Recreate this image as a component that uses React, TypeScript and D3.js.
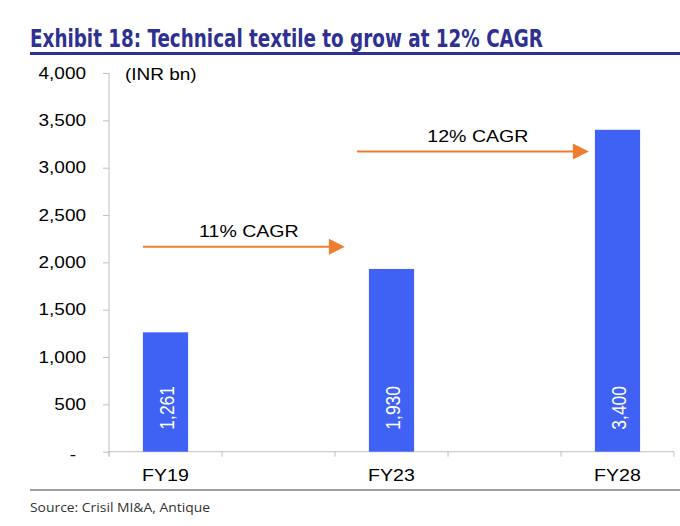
import * as d3 from "d3";
import React from "react";

// category slots: empty slots keep the gaps between the three years
const slots = ["FY19", "", "FY23", "", "FY28"];
const values: (number | null)[] = [1261, null, 1930, null, 3400];
const yTicks = [0, 500, 1000, 1500, 2000, 2500, 3000, 3500, 4000];

// CAGR annotations
const cagrLabels = ["11% CAGR", "12% CAGR"];
const cagrFrom = [0, 2];
const cagrTo = [2, 4];
const cagrLevel = [2165, 3170];

const title = "Exhibit 18: Technical textile to grow at 12% CAGR";
const unitLabel = "(INR bn)";
const source = "Source: Crisil MI&A, Antique";

const W = 680;
const H = 526;
const STRETCH = 1.15; // the source picture is a little wider than tall

function stretch(sel: d3.Selection<SVGTextElement, any, any, any>) {
  sel.each(function () {
    const len = this.getComputedTextLength();
    if (len > 0) {
      d3.select(this)
        .attr("textLength", len * STRETCH)
        .attr("lengthAdjust", "spacingAndGlyphs");
    }
  });
}

export default function App() {
  const ref = React.useRef<SVGSVGElement>(null);

  React.useEffect(() => {
    if (!ref.current) return;
    const svg = d3.select(ref.current);
    svg.selectAll("*").remove();

    const font = "'Liberation Sans', Arial, Helvetica, sans-serif";
    const fs = 16.5;
    const plot = { left: 109, right: 674, top: 73, bottom: 451.7 };

    // タイトル
    svg
      .append("text")
      .attr("x", 30)
      .attr("y", 46.5)
      .attr("textLength", 513)
      .attr("lengthAdjust", "spacingAndGlyphs")
      .attr("fill", "#2e3192")
      .attr("font-family", "'Liberation Sans Narrow', 'DejaVu Sans Condensed', 'Open Sans', sans-serif")
      .attr("font-weight", "bold")
      .attr("font-size", 24)
      .text(title);

    svg
      .append("line")
      .attr("x1", 30)
      .attr("x2", W)
      .attr("y1", 53.5)
      .attr("y2", 53.5)
      .attr("stroke", "#2e3192")
      .attr("stroke-width", 3);

    const x = d3
      .scaleBand<number>()
      .domain(d3.range(slots.length))
      .range([plot.left, plot.right])
      .paddingInner(0.6)
      .paddingOuter(0.3);

    const step = x.step();

    const y = d3.scaleLinear().domain([0, 4000]).range([plot.bottom, plot.top]);

    // Y軸
    const yAxis = svg
      .append("g")
      .attr("transform", `translate(${plot.left},0)`)
      .call(
        d3
          .axisLeft(y)
          .tickValues(yTicks)
          .tickSize(6)
          .tickPadding(17)
          .tickFormat((d) => (+d === 0 ? "-" : d3.format(",")(+d)))
      );
    yAxis.select(".domain").remove();
    yAxis.selectAll(".tick line").attr("stroke", "#c0c0c0");
    const yLabels = yAxis
      .selectAll<SVGTextElement, number>(".tick text")
      .attr("font-family", font)
      .attr("font-size", fs)
      .attr("fill", "#000")
      .attr("dx", (d) => (d === 0 ? -10 : 0))
      .attr("dy", (d) => (d === 0 ? "0.45em" : "0.32em"));
    stretch(yLabels);
    svg
      .append("line")
      .attr("x1", plot.left)
      .attr("x2", plot.left)
      .attr("y1", plot.top)
      .attr("y2", plot.bottom + 5)
      .attr("stroke", "#c0c0c0");

    // X軸
    const xg = svg.append("g");
    xg.append("line")
      .attr("x1", plot.left)
      .attr("x2", plot.right)
      .attr("y1", plot.bottom)
      .attr("y2", plot.bottom)
      .attr("stroke", "#c0c0c0");
    xg.selectAll("line.tick")
      .data(d3.range(slots.length + 1))
      .enter()
      .append("line")
      .attr("class", "tick")
      .attr("x1", (i) => plot.left + i * step)
      .attr("x2", (i) => plot.left + i * step)
      .attr("y1", plot.bottom)
      .attr("y2", plot.bottom + 5)
      .attr("stroke", "#c0c0c0");
    const xLabels = xg
      .selectAll<SVGTextElement, string>("text")
      .data(slots)
      .enter()
      .append("text")
      .attr("x", (_, i) => (x(i) || 0) + x.bandwidth() / 2)
      .attr("y", plot.bottom + 29.5)
      .attr("text-anchor", "middle")
      .attr("font-family", font)
      .attr("font-size", fs + 0.5)
      .attr("fill", "#000")
      .text((d) => d);
    stretch(xLabels);

    // バー
    const bars = slots
      .map((s, i) => ({ s, i, v: values[i] }))
      .filter((d) => d.v !== null) as { s: string; i: number; v: number }[];

    svg
      .selectAll("rect.bar")
      .data(bars)
      .enter()
      .append("rect")
      .attr("class", "bar")
      .attr("x", (d) => x(d.i) || 0)
      .attr("y", (d) => y(d.v))
      .attr("width", x.bandwidth())
      .attr("height", (d) => y(0) - y(d.v))
      .attr("fill", "#3f62f4");

    svg
      .selectAll("text.val")
      .data(bars)
      .enter()
      .append("text")
      .attr("class", "val")
      .attr(
        "transform",
        (d) =>
          `translate(${(x(d.i) || 0) + x.bandwidth() / 2 + 1},${y(0) - 22}) rotate(-90) scale(1,${STRETCH})`
      )
      .attr("dy", "0.36em")
      .attr("font-family", font)
      .attr("font-size", 17.5)
      .attr("fill", "#fff")
      .text((d) => d3.format(",")(d.v));

    // 単位
    const unit = svg
      .append("text")
      .attr("x", 125)
      .attr("y", y(4000) + 6.5)
      .attr("font-family", font)
      .attr("font-size", fs)
      .attr("fill", "#000")
      .text(unitLabel);
    stretch(unit as any);

    // CAGR矢印
    const orange = "#ed7d31";
    cagrLabels.forEach((label, k) => {
      const x1 = k === 0 ? x(cagrFrom[k]) || 0 : (x(cagrFrom[k]) || 0) - 12;
      const x2 = (x(cagrTo[k]) || 0) - (k === 0 ? 24 : 6);
      const yy = y(cagrLevel[k]);
      svg
        .append("line")
        .attr("x1", x1)
        .attr("x2", x2 - 14)
        .attr("y1", yy)
        .attr("y2", yy)
        .attr("stroke", orange)
        .attr("stroke-width", 2);
      svg
        .append("path")
        .attr("d", `M${x2},${yy}L${x2 - 16},${yy - 8}L${x2 - 16},${yy + 8}Z`)
        .attr("fill", orange);
      const t = svg
        .append("text")
        .attr("x", (x1 + x2) / 2 + 5)
        .attr("y", yy - 10)
        .attr("text-anchor", "middle")
        .attr("font-family", font)
        .attr("font-size", fs + 0.5)
        .attr("fill", "#000")
        .text(label);
      stretch(t as any);
    });

    // 出典
    svg
      .append("line")
      .attr("x1", 30)
      .attr("x2", W)
      .attr("y1", 490)
      .attr("y2", 490)
      .attr("stroke", "#7f7f7f")
      .attr("stroke-width", 1.5);

    svg
      .append("text")
      .attr("x", 30)
      .attr("y", 512)
      .attr("textLength", 180)
      .attr("lengthAdjust", "spacingAndGlyphs")
      .attr("font-family", "'Open Sans', 'Noto Sans', sans-serif")
      .attr("font-size", 13.5)
      .attr("fill", "#333")
      .text(source);
  }, []);

  return (
    <svg
      ref={ref}
      width={W}
      height={H}
      style={{ position: "absolute", left: 0, top: 0, background: "#fff" }}
    />
  );
}
